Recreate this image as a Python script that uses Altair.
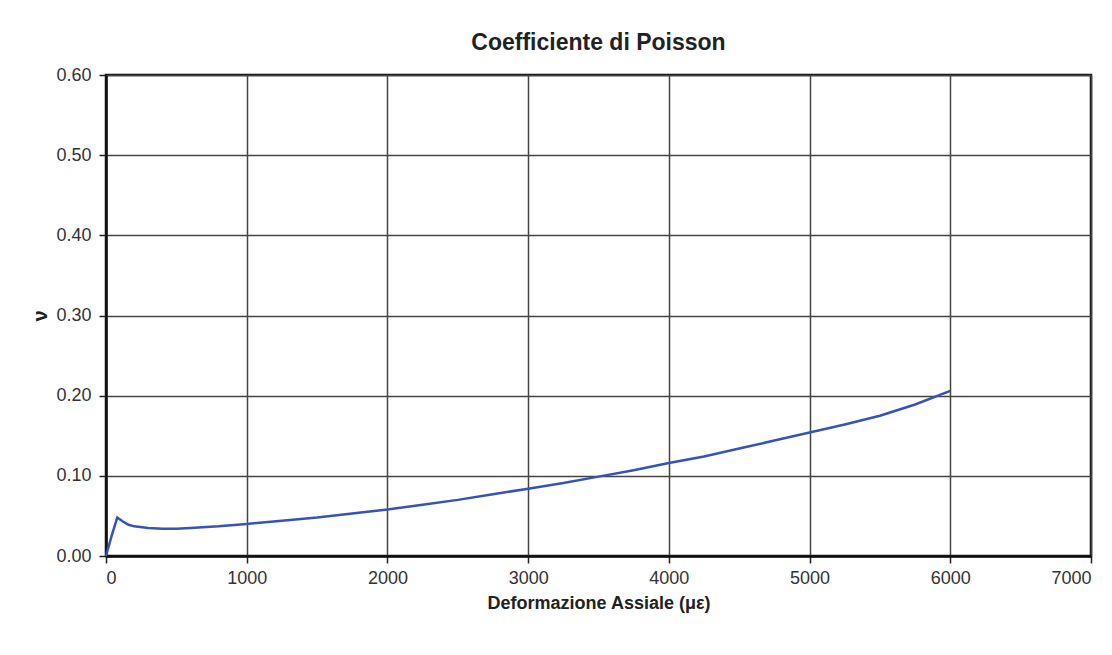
import altair as alt
import pandas as pd

# Axial strain (microstrain) and Poisson's ratio
strain = [0, 40, 80, 120, 160, 200, 300, 400, 500, 600, 800, 1000, 1250, 1500,
          1750, 2000, 2250, 2500, 2750, 3000, 3250, 3500, 3750, 4000, 4250,
          4500, 4750, 5000, 5250, 5500, 5750, 6000]
poisson = [0.000, 0.025, 0.048, 0.043, 0.039, 0.037, 0.035, 0.034, 0.034, 0.035,
           0.037, 0.040, 0.044, 0.048, 0.053, 0.058, 0.064, 0.070, 0.077, 0.084,
           0.091, 0.099, 0.107, 0.116, 0.124, 0.134, 0.144, 0.154, 0.164, 0.175,
           0.189, 0.206]

x_ticks = [0, 1000, 2000, 3000, 4000, 5000, 6000, 7000]
y_ticks = [0.0, 0.1, 0.2, 0.3, 0.4, 0.5, 0.6]

df = pd.DataFrame({"strain": strain, "nu": poisson})

font = "Liberation Sans"

chart = alt.Chart(df).mark_line(color="#3553b8", strokeWidth=2.5).encode(
    x=alt.X("strain:Q",
            scale=alt.Scale(domain=[0, 7000], nice=False),
            axis=alt.Axis(values=x_ticks, title="Deformazione Assiale (\u03bc\u03b5)",
                          format="d", labelFontSize=18, labelColor="#333333",
                          labelPadding=6, tickSize=7, tickColor="#222222",
                          tickWidth=1.5, domainColor="#111111", domainWidth=2.5,
                          titleFontSize=18, titleFontWeight="bold",
                          titleColor="#222222", titlePadding=7,
                          gridColor="#444444", gridWidth=1.5, gridOpacity=1)),
    y=alt.Y("nu:Q",
            scale=alt.Scale(domain=[0, 0.6], nice=False),
            axis=alt.Axis(values=y_ticks, title="\u03bd", format=".2f",
                          labelFontSize=18, labelColor="#333333", labelPadding=8,
                          tickSize=7, tickColor="#222222", tickWidth=1.5,
                          domainColor="#111111", domainWidth=2.5,
                          titleFontSize=20, titleFontWeight="bold",
                          titleColor="#222222", titlePadding=5,
                          gridColor="#444444", gridWidth=1.5, gridOpacity=1)),
).properties(
    width=985,
    height=481,
    title=alt.TitleParams("Coefficiente di Poisson", fontSize=23,
                          fontWeight="bold", color="#222222", offset=11,
                          anchor="middle"),
    autosize=alt.AutoSizeParams(type="none"),
    padding={"left": 98, "top": 67, "right": 13, "bottom": 90},
).configure(
    font=font,
).configure_view(
    stroke="#111111", strokeWidth=2.5,
)

chart.save("out.html", embed_options={"renderer": "svg", "actions": False})
